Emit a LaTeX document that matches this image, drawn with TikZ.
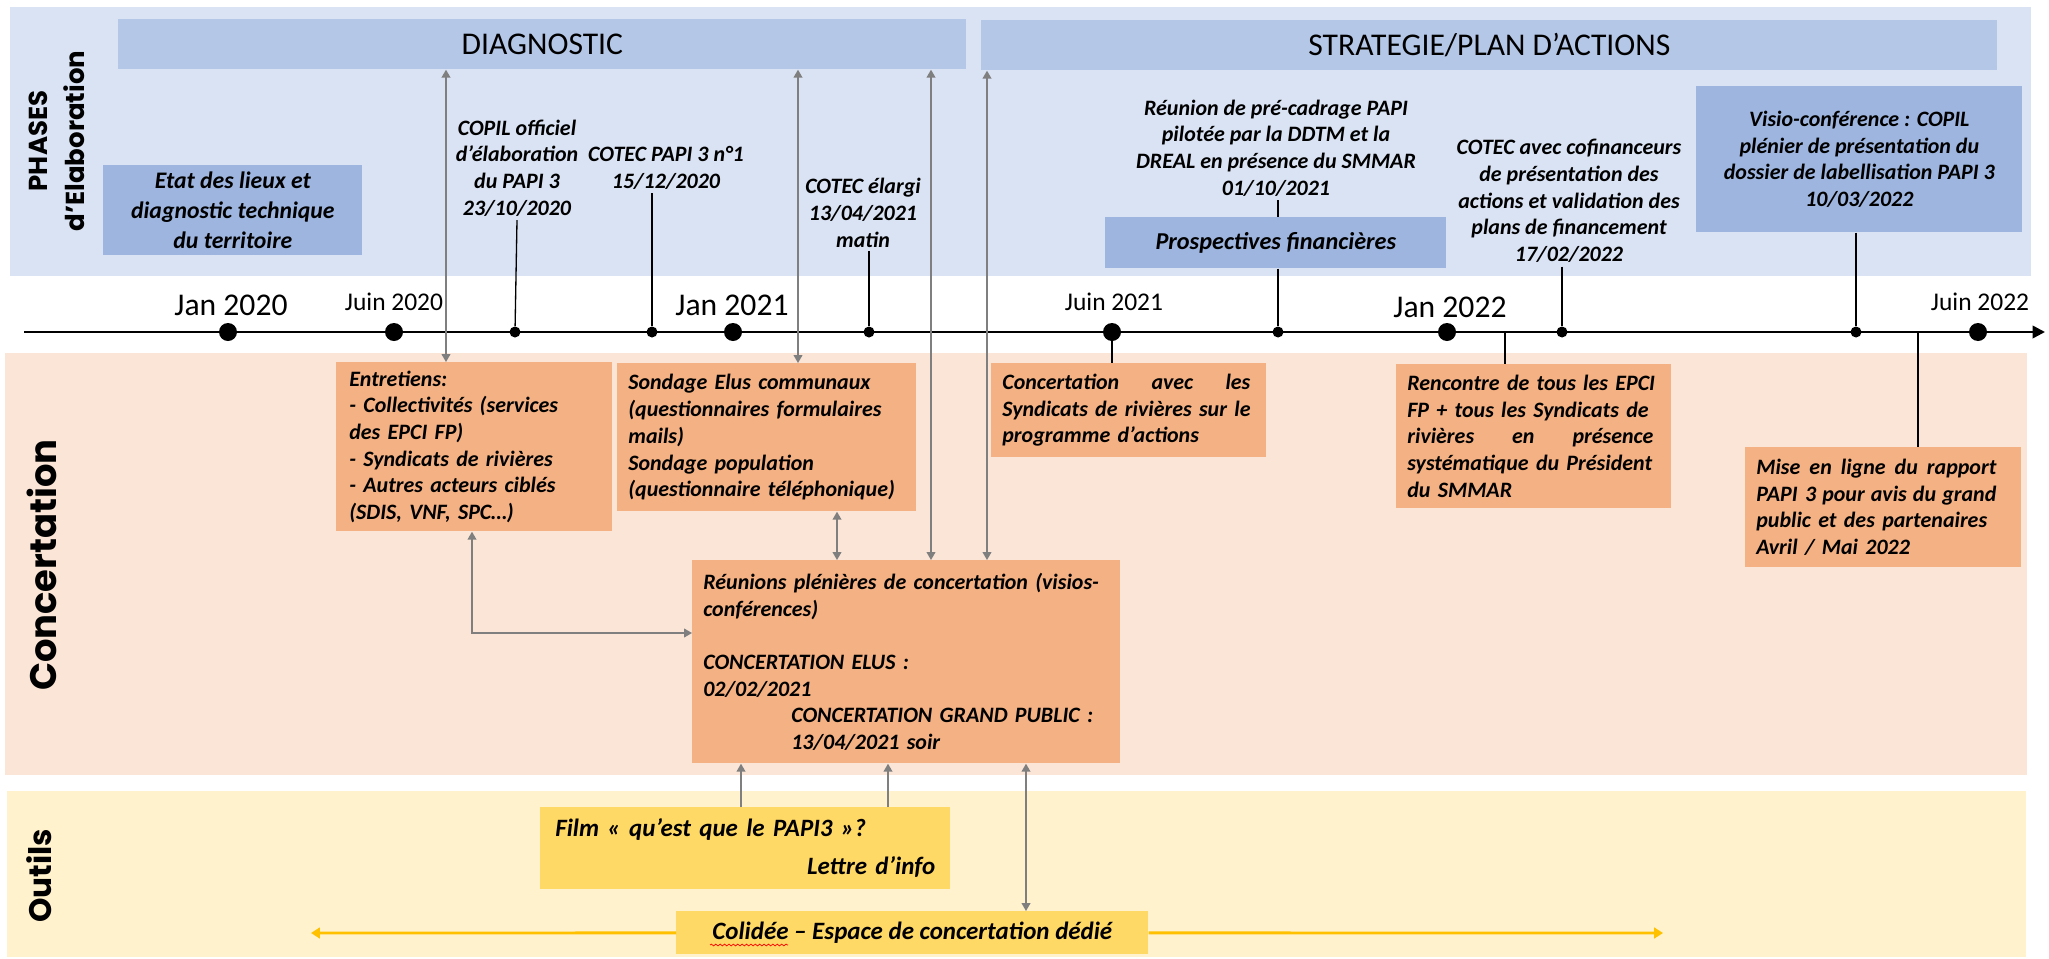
\documentclass[tikz,border=0pt]{standalone}
\usepackage{fontspec}
\setmainfont{Carlito}
\newfontfamily\bandfont{Poppins}
\usetikzlibrary{arrows.meta,decorations.pathmorphing}
\definecolor{phaseback}{HTML}{DAE3F3}
\definecolor{phasebar}{HTML}{B4C7E7}
\definecolor{phasebox}{HTML}{9DB5DF}
\definecolor{concback}{HTML}{FBE5D6}
\definecolor{concbox}{HTML}{F4B183}
\definecolor{toolback}{HTML}{FFF2CC}
\definecolor{toolbox}{HTML}{FFD966}
\definecolor{toolline}{HTML}{FFC000}
\definecolor{linkgray}{HTML}{7F7F7F}
\newcommand\boxfont{\fontsize{12.5}{15.2}\selectfont\bfseries\itshape}
\newcommand\toolfont{\fontsize{14.2}{17}\selectfont\bfseries\itshape}
\newcommand\spreadto[2]{\leavevmode\hbox to #1{#2}}

\begin{document}
\begin{tikzpicture}[x=0.2mm,y=-0.2mm,
        bar/.style={anchor=north west,fill=phasebar,minimum height=10mm,inner sep=0pt,font=\fontsize{18}{20}\selectfont},
        bluebox/.style={anchor=north west,fill=phasebox,inner xsep=2.6mm,inner ysep=0pt,align=center,font=\boxfont},
        orangebox/.style={anchor=north west,fill=concbox,inner xsep=2.2mm,inner ysep=0pt,align=left,font=\boxfont},
        yellowbox/.style={anchor=north west,fill=toolbox,inner xsep=3mm,inner ysep=0pt,align=left,font=\toolfont},
        event/.style={align=center,inner sep=2pt,font=\boxfont},
        bigdot/.style={circle,fill,inner sep=0pt,minimum size=3.6mm},
        smalldot/.style={circle,fill,inner sep=0pt,minimum size=2.2mm},
        datejan/.style={font=\fontsize{18}{20}\selectfont},
        datejuin/.style={font=\fontsize{14.5}{16}\selectfont},
        bandtitle/.style={rotate=90,align=center},
        stem/.style={line width=0.75pt},
        link/.style={draw=linkgray,line width=0.75pt,{Triangle[length=4.5pt,width=5pt]}-{Triangle[length=4.5pt,width=5pt]}},
        uplink/.style={draw=linkgray,line width=0.75pt,-{Triangle[length=4.5pt,width=5pt]}},
        ]
        \useasboundingbox (0,0) rectangle (2049,958);
        \fill[white] (0,0) rectangle (2049,958);
        \fill[phaseback] (10,7) rectangle (2031,276);
        \fill[concback] (5,353) rectangle (2027,775);
        \fill[toolback] (7,791) rectangle (2026,957);

        \node[bandtitle,font=\bandfont\bfseries\fontsize{14.8}{21}\selectfont] (tphases) at (57,141) {PHASES\\d’Elaboration};
        \node[bandtitle,font=\bandfont\bfseries\fontsize{21}{24}\selectfont] (tconc) at (42,565) {Concertation};
        \node[bandtitle,font=\bandfont\bfseries\fontsize{17.7}{20}\selectfont] (toutils) at (39,876) {Outils};

        \node[bar,minimum width=169.6mm] (diag) at (118,19) {DIAGNOSTIC};
        \node[bar,minimum width=203.2mm] (strat) at (981,20) {STRATEGIE/PLAN D’ACTIONS};

        \node[bluebox,minimum width=51.8mm,minimum height=18mm,font=\fontsize{13.5}{17}\selectfont\bfseries\itshape] (etat) at (103,165) {Etat des lieux et\\diagnostic technique\\du territoire};
        \node[bluebox,minimum width=68.2mm,minimum height=10.2mm,font=\fontsize{13.8}{16}\selectfont\bfseries\itshape] (prosp) at (1105,217) {Prospectives financières};
        \node[bluebox,minimum width=65.2mm,minimum height=29.2mm] (visio) at (1696,86) {Visio-conférence : COPIL\\plénier de présentation du\\dossier de labellisation PAPI 3\\10/03/2022};

        \coordinate (axstart) at (24,332);
        \coordinate (axend) at (2045,332);
        \draw[line width=1.4pt,-{Triangle[length=7pt,width=7pt]}] (axstart) -- (axend);

        \node[bigdot] (jan20) at (228,332) {};
        \node[bigdot] (jun20) at (394,332) {};
        \node[bigdot] (jan21) at (733,332) {};
        \node[bigdot] (jun21) at (1112,332) {};
        \node[bigdot] (jan22) at (1447,332) {};
        \node[bigdot] (jun22) at (1978,332) {};
        \node[datejan] (ljan20) at (231,305) {Jan 2020};
        \node[datejuin] (ljun20) at (394,302) {Juin 2020};
        \node[datejan] (ljan21) at (732,305) {Jan 2021};
        \node[datejuin] (ljun21) at (1114,302) {Juin 2021};
        \node[datejan] (ljan22) at (1450,307) {Jan 2022};
        \node[datejuin] (ljun22) at (1980,302) {Juin 2022};

        \node[smalldot] (dcopil) at (515,332) {};
        \node[smalldot] (dcotec) at (652,332) {};
        \node[smalldot] (delargi) at (869,332) {};
        \node[smalldot] (dprecad) at (1278,332) {};
        \node[smalldot] (dcofin) at (1562,332) {};
        \node[smalldot] (dvisio) at (1856,332) {};
        \coordinate (arenc) at (1505,332);
        \coordinate (amise) at (1918,332);

        \node[event] (lcopil) at (517,168) {COPIL officiel\\d’élaboration\\du PAPI 3\\23/10/2020};
        \node[event] (lcotec) at (666,168) {COTEC PAPI 3 n°1\\15/12/2020};
        \node[event] (lelargi) at (863,213) {COTEC élargi\\13/04/2021\\matin};
        \node[event] (lprecad) at (1276,148) {Réunion de pré-cadrage PAPI\\pilotée par la DDTM et la\\DREAL en présence du SMMAR\\01/10/2021};
        \node[event] (lcofin) at (1569,201) {COTEC avec cofinanceurs\\de présentation des\\actions et validation des\\plans de financement\\17/02/2022};

        \node[orangebox,minimum width=55.2mm,minimum height=33.8mm,text width=50mm] (entr) at (336,362) {Entretiens:\\- Collectivités (services\\des EPCI FP)\\- Syndicats de rivières\\- Autres acteurs ciblés\\(SDIS, VNF, SPC…)};
        \node[orangebox,minimum width=59.8mm,minimum height=29.6mm,text width=55.4mm] (sond) at (617,363) {Sondage Elus communaux\\(questionnaires formulaires\\mails)\\Sondage population\\(questionnaire téléphonique)};
        \node[orangebox,minimum width=85.6mm,minimum height=40.6mm,text width=81.2mm] (reun) at (692,560) {Réunions plénières de concertation (visios-\\conférences)\\ \mbox{}\\CONCERTATION ELUS :\\02/02/2021\\\hspace*{17.6mm}CONCERTATION GRAND PUBLIC :\\\hspace*{17.6mm}13/04/2021 soir};
        \node[orangebox,minimum width=55mm,minimum height=18.8mm,text width=50.6mm] (cavec) at (991,363) {\spreadto{49.6mm}{Concertation\hfill avec\hfill les}\\Syndicats de rivières sur le\\programme d’actions};
        \node[orangebox,minimum width=55mm,minimum height=28.8mm,text width=50.6mm] (renc) at (1396,364) {Rencontre de tous les EPCI\\FP + tous les Syndicats de\\\spreadto{49.2mm}{rivières\hfill en\hfill présence}\\systématique du Président\\du SMMAR};
        \node[orangebox,minimum width=55.2mm,minimum height=24mm,text width=50.8mm] (mise) at (1745,447) {\spreadto{48mm}{Mise\hfill en\hfill ligne\hfill du\hfill rapport}\\\spreadto{48mm}{PAPI 3\hfill pour\hfill avis\hfill du\hfill grand}\\public et des partenaires\\Avril / Mai 2022};

        \node[yellowbox,minimum width=82mm,minimum height=16.4mm,text width=76mm] (film) at (540,807) {Film « qu’est que le PAPI3 »?\\[1.6mm]\hspace*{\fill}Lettre d’info\hspace*{2.4mm}};
        \node[yellowbox,minimum width=94.4mm,minimum height=8.6mm,align=center] (coli) at (676,911) {Colidée – Espace de concertation dédié};
        \draw[red,line width=0.4pt,decorate,decoration={snake,amplitude=0.5pt,segment length=2.5pt}] (710,945) -- (788,945);
        \coordinate (gleft) at (311,933);
        \coordinate (gright) at (1663,933);
        \draw[toolline,line width=1.6pt,-{Triangle[length=5pt,width=6pt]}] (coli.west) -- (gleft);
        \draw[toolline,line width=1.6pt,-{Triangle[length=5pt,width=6pt]}] (coli.east) -- (gright);

        \draw[stem] (lcopil.south) -- (dcopil);
        \draw[stem] (dcotec |- lcotec.south) -- (dcotec);
        \draw[stem] (delargi |- lelargi.south) -- (delargi);
        \draw[stem] (dprecad |- lprecad.south) -- (dprecad |- prosp.north);
        \draw[stem] (dprecad |- prosp.south) -- (dprecad);
        \draw[stem] (dcofin |- lcofin.south) -- (dcofin);
        \draw[stem] (dvisio |- visio.south) -- (dvisio);
        \draw[stem] (jun21) -- (jun21 |- cavec.north);
        \draw[stem] (arenc) -- (arenc |- renc.north);
        \draw[stem] (amise) -- (amise |- mise.north);

        \coordinate (kentr) at (446,0);
        \coordinate (ksond) at (798,0);
        \coordinate (kdiag) at (931,0);
        \coordinate (kstrat) at (987,0);
        \coordinate (kmid) at (837,0);
        \coordinate (kbend) at (472,633);
        \coordinate (kfilm) at (741,0);
        \coordinate (kinfo) at (888,0);
        \coordinate (kcoli) at (1026,0);
        \draw[link] (diag.south -| kentr) -- (entr.north -| kentr);
        \draw[link] (diag.south -| ksond) -- (sond.north -| ksond);
        \draw[link] (diag.south -| kdiag) -- (reun.north -| kdiag);
        \draw[link] (strat.south -| kstrat) -- (reun.north -| kstrat);
        \draw[link] (sond.south -| kmid) -- (reun.north -| kmid);
        \draw[link] (entr.south -| kbend) -- (kbend) -- (reun.west |- kbend);
        \draw[uplink] (film.north -| kfilm) -- (reun.south -| kfilm);
        \draw[uplink] (film.north -| kinfo) -- (reun.south -| kinfo);
        \draw[link] (reun.south -| kcoli) -- (coli.north -| kcoli);
\end{tikzpicture}
\end{document}
